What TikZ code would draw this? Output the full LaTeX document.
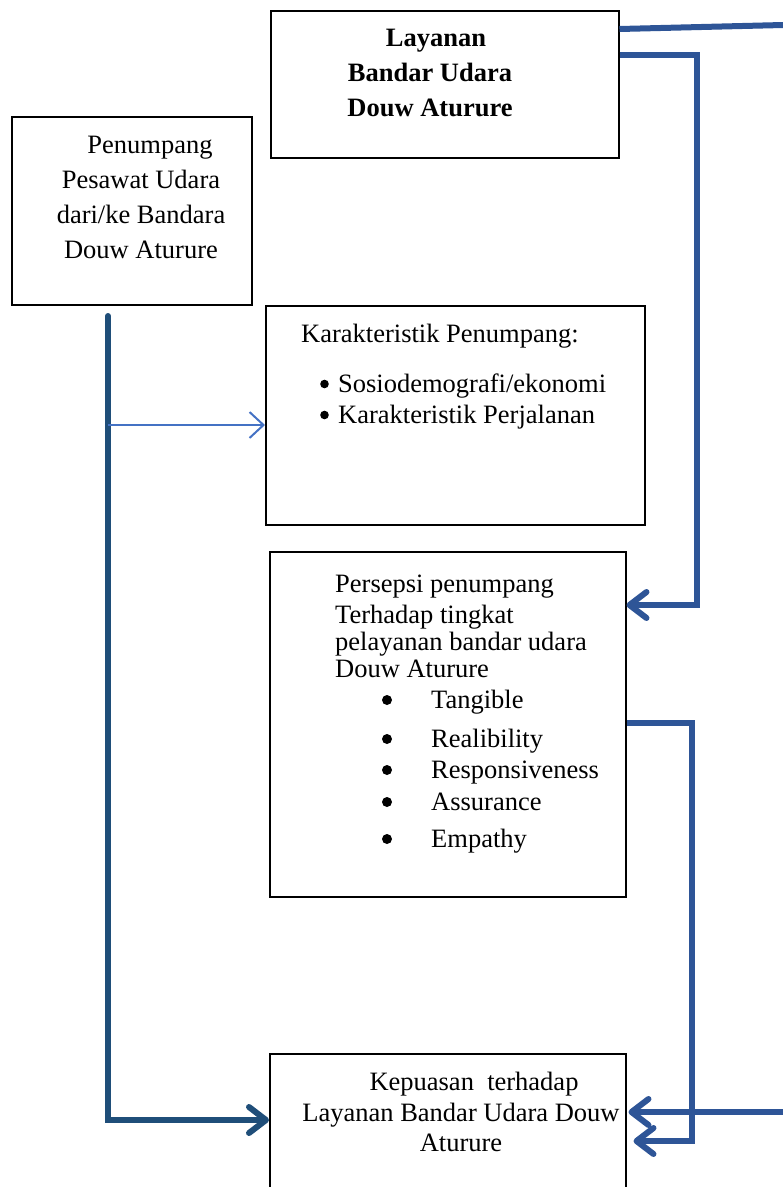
\documentclass[tikz,border=0pt]{standalone}
\usepackage{fontspec}
\setmainfont{Liberation Serif}
\usetikzlibrary{arrows.meta,calc}
\tikzset{
  kotak/.style={draw,line width=1.5pt,anchor=north west,inner sep=0pt},
  teks/.style={font=\fontsize{26.5}{35}\selectfont,inner sep=0pt},
  kiriteks/.style={teks,anchor=base west},
  garis/.style={color={rgb,255:red,46;green,85;blue,151},line width=6pt,
    -{Straight Barb[length=17pt,width=26pt,round]}},
  garisgelap/.style={garis,color={rgb,255:red,31;green,78;blue,121}},
  garistipis/.style={color={rgb,255:red,68;green,114;blue,196},line width=2pt,
    -{Straight Barb[length=14pt,width=26pt]}}
}
\begin{document}
\begin{tikzpicture}[x=1pt,y=-1pt]
    \useasboundingbox (0,0) rectangle (783,1187);
    % kotak-kotak
    \node[kotak,minimum width=348,minimum height=147] (layanan) at (270,10) {};
    \node[kotak,minimum width=240,minimum height=188] (penumpang) at (11,116) {};
    \node[kotak,minimum width=379,minimum height=219] (karakteristik) at (265,305) {};
    \node[kotak,minimum width=356,minimum height=345] (persepsi) at (269,551) {};
    \node[kotak,minimum width=356,minimum height=145] (kepuasan) at (269,1053) {};
    % teks
    \node[teks,font=\fontsize{26.5}{35}\selectfont\bfseries,align=center] (layanan-t) at (430,73)
      {\hspace*{12pt}Layanan\\Bandar Udara\\Douw Aturure};
    \node[teks,align=center] (penumpang-t) at (141,197)
      {\hspace*{18pt}Penumpang\\Pesawat Udara\\dari/ke Bandara\\Douw Aturure};
    \node[kiriteks] (kar-judul) at (301,342) {Karakteristik Penumpang:};
    \foreach \y/\t in {392/{Sosiodemografi/ekonomi},423/{Karakteristik Perjalanan}}{
      \fill (324.5,\y-8) circle (4.3pt);
      \node[kiriteks] at (338,\y) {\t};
    }
    \node[kiriteks] (per-1) at (335,592) {Persepsi penumpang};
    \node[kiriteks] (per-2) at (335,623) {Terhadap tingkat};
    \node[kiriteks] (per-3) at (335,650) {pelayanan bandar udara};
    \node[kiriteks] (per-4) at (335,677) {Douw Aturure};
    \foreach \t/\y in {Tangible/708,Realibility/747,Responsiveness/778,Assurance/810,Empathy/847}{
      \fill (387,\y-8) circle (5pt);
      \node[kiriteks] at (431,\y) {\t};
    }
    \node[teks,font=\fontsize{26.5}{30.5}\selectfont,align=center] (kepuasan-t) at (461,1112)
      {\hspace*{26pt}Kepuasan\ \ terhadap\\Layanan Bandar Udara Douw\\Aturure};
    % penghubung
    \coordinate (atas) at (783,25);
    \coordinate (kanan) at (783,1112);
    \coordinate (kiri) at (108,316);
    \draw[garis,-] ([yshift=-19pt]layanan.north east) -- (atas);
    \draw[garis] ([yshift=-45pt]layanan.north east) -- ++(77,0) |- ([yshift=-54pt]persepsi.north east);
    \draw[garisgelap,line cap=round] (kiri) |- ([yshift=-67pt]kepuasan.north west);
    \draw[garistipis] (kiri |- 0,425) -- ([yshift=-120pt]karakteristik.north west);
    \draw[garis] ([yshift=-172pt]persepsi.north east) -- ++(65,0) |- ([xshift=7pt,yshift=-88pt]kepuasan.north east);
    \draw[garis] (kanan) -- ([xshift=2pt,yshift=-59pt]kepuasan.north east);
\end{tikzpicture}
\end{document}
